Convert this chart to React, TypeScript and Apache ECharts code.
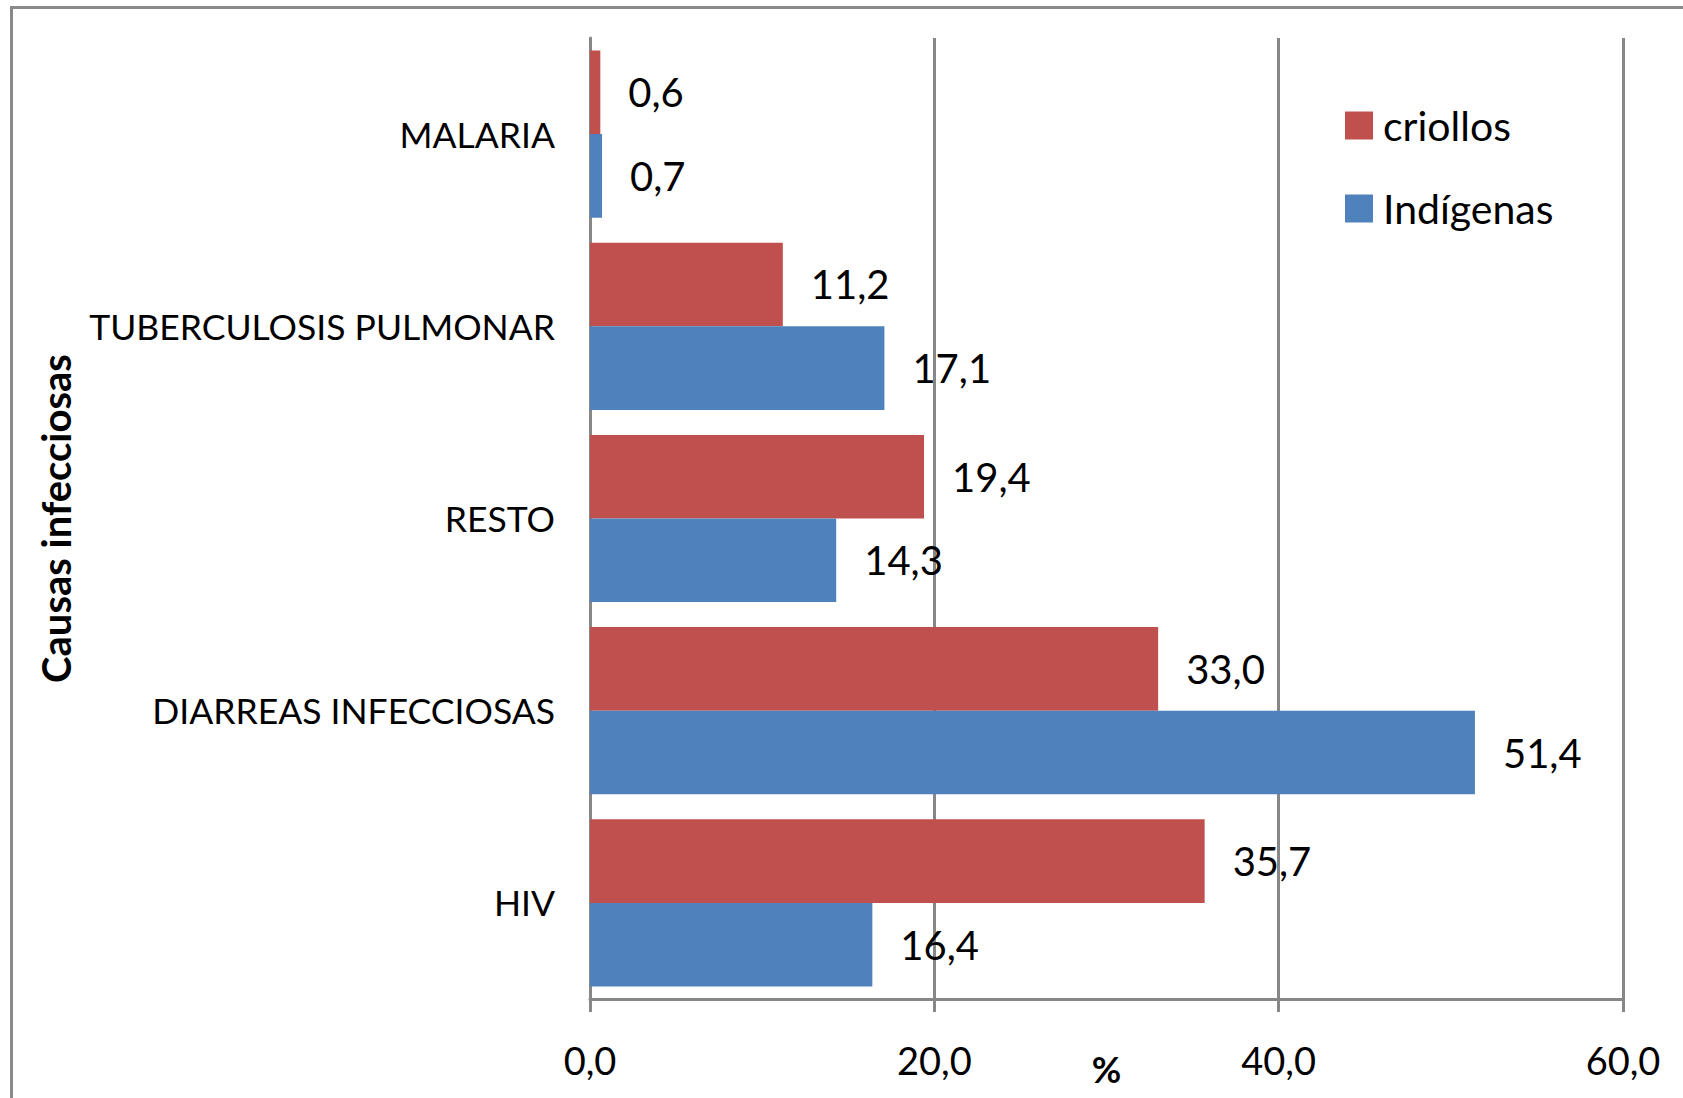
import React, { useEffect, useRef } from "react";
import * as echarts from "echarts";

const categories = ["MALARIA", "TUBERCULOSIS PULMONAR", "RESTO", "DIARREAS INFECCIOSAS", "HIV"];
const criollos = [0.6, 11.2, 19.4, 33.0, 35.7];
const indigenas = [0.7, 17.1, 14.3, 51.4, 16.4];
const seriesNames = ["criollos", "Indígenas"];
const xTicks = { min: 0, max: 60, interval: 20 };

const FONT = "Lato, 'Open Sans', sans-serif";
const fmt = (v: number) => v.toFixed(1).replace(".", ",");

export default function App() {
  const ref = useRef<HTMLDivElement>(null);
  useEffect(() => {
    if (!ref.current) return;
    const chart = echarts.init(ref.current, null, { renderer: "svg", width: 1683, height: 1098 });
    const gray = "#878787";
    const label = {
      show: true,
      position: "right",
      distance: 28,
      formatter: (p: any) => fmt(p.value),
      fontFamily: FONT,
      fontSize: 40,
      color: "#000",
    };
    chart.setOption({
      animation: false,
      backgroundColor: "#ffffff",
      textStyle: { fontFamily: FONT },
      graphic: [
        {
          type: "rect",
          shape: { x: 11.5, y: 7.5, width: 1800, height: 1200 },
          style: { fill: "none", stroke: "#898989", lineWidth: 3 },
          silent: true,
        },
      ],
      legend: {
        orient: "vertical",
        left: 1345,
        top: 105,
        padding: 0,
        itemWidth: 28,
        itemHeight: 28,
        itemGap: 42,
        icon: "rect",
        data: seriesNames,
        textStyle: {
          fontFamily: FONT,
          fontSize: 41,
          lineHeight: 40,
          color: "#000",
          padding: [0, 0, 0, 5],
        },
      },
      grid: { left: 590, right: 60, top: 38, bottom: 99, containLabel: false, outerBoundsMode: "none" },
      xAxis: {
        type: "value",
        min: xTicks.min,
        max: xTicks.max,
        interval: xTicks.interval,
        name: "%",
        nameLocation: "middle",
        nameGap: 52,
        nameMoveOverlap: false,
        nameTextStyle: { fontFamily: FONT, fontSize: 36, fontWeight: "bold", color: "#000" },
        axisLine: { show: true, lineStyle: { color: gray, width: 3 } },
        axisTick: { show: true, length: 13, lineStyle: { color: gray, width: 3 } },
        axisLabel: {
          formatter: (v: number) => fmt(v),
          fontFamily: FONT,
          fontSize: 38,
          color: "#000",
          margin: 42,
        },
        splitLine: { show: true, lineStyle: { color: gray, width: 3 } },
      },
      yAxis: {
        type: "category",
        data: categories,
        inverse: true,
        name: "Causas infecciosas",
        nameLocation: "middle",
        nameGap: 514,
        nameRotate: 90,
        nameMoveOverlap: false,
        nameTextStyle: { fontFamily: FONT, fontSize: 40, fontWeight: "bold", color: "#000" },
        axisLine: { show: true, lineStyle: { color: gray, width: 3 } },
        axisTick: { show: false },
        axisLabel: { fontFamily: FONT, fontSize: 35.5, color: "#000", margin: 35 },
        splitLine: { show: false },
      },
      series: [
        {
          name: seriesNames[0],
          type: "bar",
          data: criollos,
          itemStyle: { color: "#C0504D" },
          barGap: "0%",
          barCategoryGap: "13%",
          label,
        },
        {
          name: seriesNames[1],
          type: "bar",
          data: indigenas,
          itemStyle: { color: "#4F81BD" },
          barGap: "0%",
          barCategoryGap: "13%",
          label,
        },
      ],
    });
    return () => chart.dispose();
  }, []);
  return (
    <div
      ref={ref}
      style={{ position: "absolute", left: 0, top: 0, width: 1683, height: 1098 }}
    />
  );
}
